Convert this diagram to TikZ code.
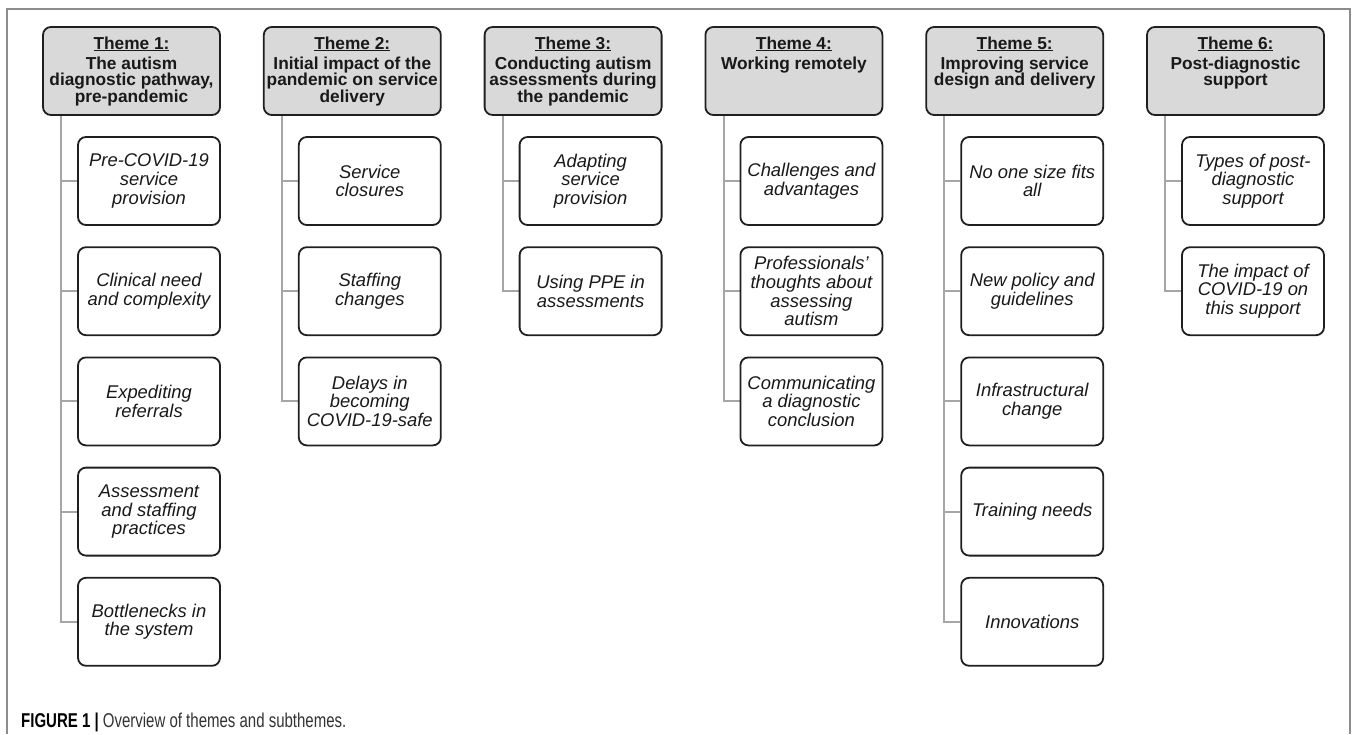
\documentclass[tikz,border=0pt]{standalone}
\usepackage{fontspec}
\setmainfont{Liberation Sans}
\newfontfamily\capfont[FakeStretch=0.75]{Liberation Sans}
\usetikzlibrary{calc,backgrounds}
\definecolor{hdrfill}{HTML}{D9D9D9}
\definecolor{boxline}{HTML}{1F1F1F}
\definecolor{connline}{HTML}{A6A6A6}
\definecolor{frameline}{HTML}{8C8C8C}
\definecolor{captxt}{HTML}{333333}
\newcommand{\hdrbox}[2]{\parbox[c][88pt][t]{177pt}{\centering\fontsize{17.3}{16.8}\selectfont\bfseries\rule{0pt}{22pt}\underline{#1}\\[3.2pt]#2\par}}
\tikzset{
  hdr/.style={draw=boxline, line width=1.8pt, fill=hdrfill, rounded corners=8pt, inner sep=0pt, minimum width=177pt, minimum height=88pt, text=black!90},
  sub/.style={draw=boxline, line width=1.8pt, fill=white, rounded corners=8pt, inner sep=2pt, minimum width=142pt, minimum height=88pt, align=center, font=\fontsize{18.4}{18.7}\selectfont\itshape, text=black!90},
  conn/.style={draw=connline, line width=2pt},
  frame/.style={draw=frameline, line width=2pt},
}
\begin{document}
\begin{tikzpicture}[x=1pt,y=-1pt]
\useasboundingbox (0,0) rectangle (1357,734);
\draw[frame] (7,734) -- (7,9) -- (1350,9) -- (1350,734);

% headers
\node[hdr] (h1) at (131.5,71) {\hdrbox{Theme 1:}{The autism\\diagnostic pathway,\\pre-pandemic}};
\node[hdr] (h2) at (352.3,71) {\hdrbox{Theme 2:}{Initial impact of the\\pandemic on service\\delivery}};
\node[hdr] (h3) at (573.1,71) {\hdrbox{Theme 3:}{Conducting autism\\assessments during\\the pandemic}};
\node[hdr] (h4) at (793.9,71) {\hdrbox{Theme 4:}{Working remotely}};
\node[hdr] (h5) at (1014.7,71) {\hdrbox{Theme 5:}{Improving service\\design and delivery}};
\node[hdr] (h6) at (1235.5,71) {\hdrbox{Theme 6:}{Post-diagnostic\\support}};

% subthemes
\node[sub] (s11) at (149,181)   {Pre-COVID-19\\service\\provision};
\node[sub] (s12) at (149,291.2) {Clinical need\\and complexity};
\node[sub] (s13) at (149,401.4) {Expediting\\referrals};
\node[sub] (s14) at (149,511.6) {Assessment\\and staffing\\practices};
\node[sub] (s15) at (149,621.8) {Bottlenecks in\\the system};

\node[sub] (s21) at (369.8,181)   {Service\\closures};
\node[sub] (s22) at (369.8,291.2) {Staffing\\changes};
\node[sub] (s23) at (369.8,401.4) {Delays in\\becoming\\COVID-19-safe};

\node[sub] (s31) at (590.6,181)   {Adapting\\service\\provision};
\node[sub] (s32) at (590.6,291.2) {Using PPE in\\assessments};

\node[sub] (s41) at (811.4,181)   {Challenges and\\advantages};
\node[sub] (s42) at (811.4,291.2) {Professionals'\\thoughts about\\assessing\\autism};
\node[sub] (s43) at (811.4,401.4) {Communicating\\a diagnostic\\conclusion};

\node[sub] (s51) at (1032.2,181)   {No one size fits\\all};
\node[sub] (s52) at (1032.2,291.2) {New policy and\\guidelines};
\node[sub] (s53) at (1032.2,401.4) {Infrastructural\\change};
\node[sub] (s54) at (1032.2,511.6) {Training needs};
\node[sub] (s55) at (1032.2,621.8) {Innovations};

\node[sub] (s61) at (1253,181)   {Types of post-\\diagnostic\\support};
\node[sub] (s62) at (1253,291.2) {The impact of\\COVID-19 on\\this support};

% connector roots
\foreach \h in {1,...,6}{
  \coordinate (r\h) at ($(h\h.south west)+(19,0)$);
}

\begin{scope}[on background layer]
\foreach \s in {11,12,13,14,15}{ \draw[conn] (r1) |- (s\s.west); }
\foreach \s in {21,22,23}{ \draw[conn] (r2) |- (s\s.west); }
\foreach \s in {31,32}{ \draw[conn] (r3) |- (s\s.west); }
\foreach \s in {41,42,43}{ \draw[conn] (r4) |- (s\s.west); }
\foreach \s in {51,52,53,54,55}{ \draw[conn] (r5) |- (s\s.west); }
\foreach \s in {61,62}{ \draw[conn] (r6) |- (s\s.west); }
\end{scope}

% caption
\node[anchor=base west, inner sep=0pt, font=\capfont\fontsize{20}{21}\selectfont, text=captxt] (cap) at (21,727)
  {\textcolor{black}{\bfseries FIGURE 1 |} Overview of themes and subthemes.};
\end{tikzpicture}
\end{document}
